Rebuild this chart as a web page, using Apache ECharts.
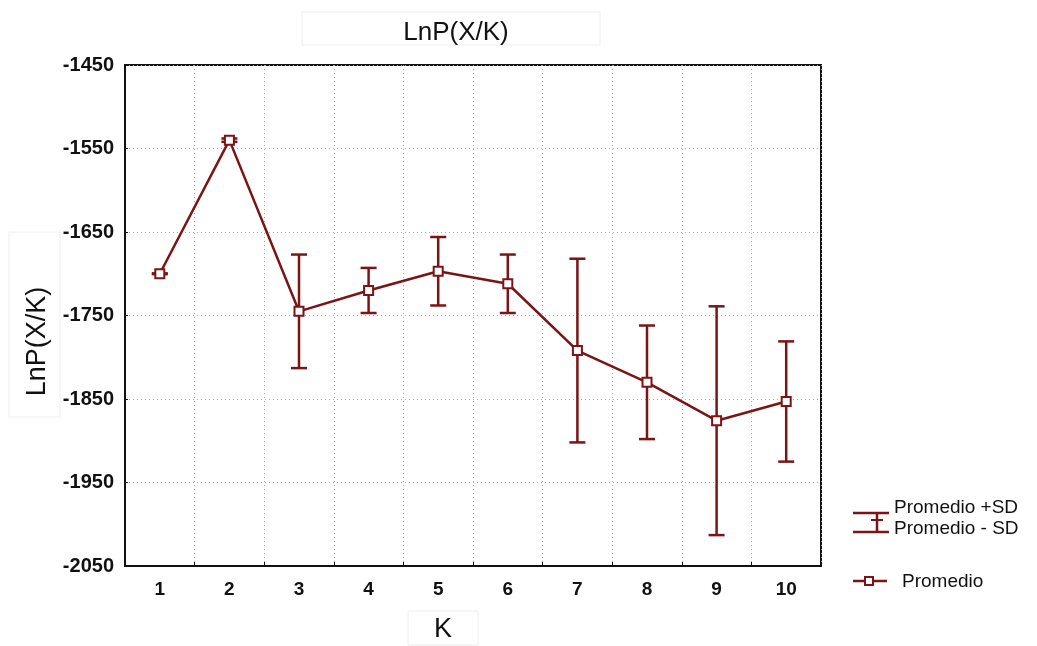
<!DOCTYPE html>
<html>
<head>
<meta charset="utf-8">
<script src="https://cdn.jsdelivr.net/npm/echarts@6/dist/echarts.min.js"></script>
<style>
html,body{margin:0;padding:0;background:#fff;}
#chart{width:1037px;height:646px;}
</style>
</head>
<body>
<div id="chart"></div>
<script>
const categories = ['1', '2', '3', '4', '5', '6', '7', '8', '9', '10'];
const meanValues = [-1700, -1540, -1745, -1720, -1697, -1712, -1792, -1830, -1876, -1853];
const sdValues = [0.5, 2, 68, 27, 41, 35, 110, 68, 137, 72];
const yTicks = [-2050, -1950, -1850, -1750, -1650, -1550, -1450];
const titleText = 'LnP(X/K)';
const xName = 'K';
const yName = 'LnP(X/K)';
const legendLabels = ['Promedio +SD', 'Promedio - SD', 'Promedio'];

const RED = '#7b1414';
const FONT = '"Liberation Sans", Arial, sans-serif';

const errData = categories.map((c, i) => [i, meanValues[i] + sdValues[i], meanValues[i] - sdValues[i]]);

const chart = echarts.init(document.getElementById('chart'));
chart.setOption({
  backgroundColor: '#fff',
  animation: false,
  title: {
    text: titleText,
    left: 451, top: 15, textAlign: 'center',
    textStyle: {fontFamily: FONT, fontSize: 26, fontWeight: 'normal', color: '#111'}
  },
  grid: {left: 125, right: 216, top: 65, bottom: 80, show: true, borderColor: '#111', borderWidth: 2,
    backgroundColor: 'transparent', containLabel: false, outerBoundsMode: 'none'},
  xAxis: {
    type: 'category', data: categories, boundaryGap: true,
    name: xName, nameLocation: 'middle', nameGap: 50,
    nameTextStyle: {fontFamily: FONT, fontSize: 27, color: '#111', padding: [0, 60, 0, 0]},
    axisLine: {lineStyle: {color: '#111', width: 2}},
    axisTick: {show: true, inside: true, length: 4, lineStyle: {color: '#111'}},
    axisLabel: {fontFamily: FONT, fontSize: 19, fontWeight: 'bold', color: '#111', margin: 14},
    splitLine: {show: true, lineStyle: {color: '#aaa', type: [1, 3], width: 1}}
  },
  yAxis: {
    type: 'value', min: -2050, max: -1450, interval: 100,
    name: yName, nameLocation: 'middle', nameGap: 74, nameRotate: 90,
    nameTextStyle: {fontFamily: FONT, fontSize: 27, color: '#111', padding: [0, 52, 0, 0]},
    axisLine: {show: true, lineStyle: {color: '#111', width: 2}},
    axisTick: {show: true, inside: true, length: 3, lineStyle: {color: '#111'}},
    axisLabel: {fontFamily: FONT, fontSize: 20, fontWeight: 'bold', color: '#111', margin: 11,
      formatter: v => yTicks.indexOf(v) >= 0 ? String(v) : ''},
    splitLine: {show: true, lineStyle: {color: '#aaa', type: [1, 3], width: 1}}
  },
  series: [
    {
      type: 'custom', name: 'SD', data: errData, z: 3,
      encode: {x: 0, y: [1, 2]},
      renderItem: function (params, api) {
        const x = api.value(0);
        const top = api.coord([x, api.value(1)]);
        const bot = api.coord([x, api.value(2)]);
        const hw = 8;
        const style = {stroke: RED, lineWidth: 2.5};
        return {
          type: 'group',
          children: [
            {type: 'line', shape: {x1: top[0], y1: top[1], x2: bot[0], y2: bot[1]}, style: style},
            {type: 'line', shape: {x1: top[0] - hw, y1: top[1], x2: top[0] + hw, y2: top[1]}, style: style},
            {type: 'line', shape: {x1: bot[0] - hw, y1: bot[1], x2: bot[0] + hw, y2: bot[1]}, style: style}
          ]
        };
      }
    },
    {
      type: 'line', name: 'Promedio', data: meanValues, z: 4,
      symbol: 'rect', symbolSize: 9, showSymbol: true,
      lineStyle: {color: RED, width: 2.5},
      itemStyle: {color: '#fff', borderColor: RED, borderWidth: 2}
    }
  ],
  graphic: [
    {type: 'rect', shape: {x: 302, y: 12, width: 298, height: 33}, style: {fill: 'none', stroke: '#eeeeee', lineWidth: 1}, z: -1},
    {type: 'rect', shape: {x: 9, y: 232, width: 51, height: 185}, style: {fill: 'none', stroke: '#eeeeee', lineWidth: 1}, z: -1},
    {type: 'rect', shape: {x: 408, y: 611, width: 70, height: 34}, style: {fill: 'none', stroke: '#eeeeee', lineWidth: 1}, z: -1},
    // error bar legend icon
    {type: 'line', shape: {x1: 853, y1: 513, x2: 889, y2: 513}, style: {stroke: RED, lineWidth: 2.5}},
    {type: 'line', shape: {x1: 853, y1: 532, x2: 889, y2: 532}, style: {stroke: RED, lineWidth: 2.5}},
    {type: 'line', shape: {x1: 877, y1: 513, x2: 877, y2: 532}, style: {stroke: RED, lineWidth: 2.5}},
    {type: 'line', shape: {x1: 871, y1: 520, x2: 883, y2: 520}, style: {stroke: RED, lineWidth: 2}},
    {type: 'text', x: 894, y: 508, style: {text: legendLabels[0], fontFamily: FONT, fontSize: 19, fill: '#111', textVerticalAlign: 'middle'}},
    {type: 'text', x: 894, y: 529, style: {text: legendLabels[1], fontFamily: FONT, fontSize: 19, fill: '#111', textVerticalAlign: 'middle'}},
    // line legend
    {type: 'line', shape: {x1: 853, y1: 581, x2: 887, y2: 581}, style: {stroke: RED, lineWidth: 2.5}},
    {type: 'rect', shape: {x: 865, y: 577, width: 8, height: 8}, style: {fill: '#fff', stroke: RED, lineWidth: 2}},
    {type: 'text', x: 902, y: 582, style: {text: legendLabels[2], fontFamily: FONT, fontSize: 19, fill: '#111', textVerticalAlign: 'middle'}}
  ]
});
</script>
</body>
</html>
